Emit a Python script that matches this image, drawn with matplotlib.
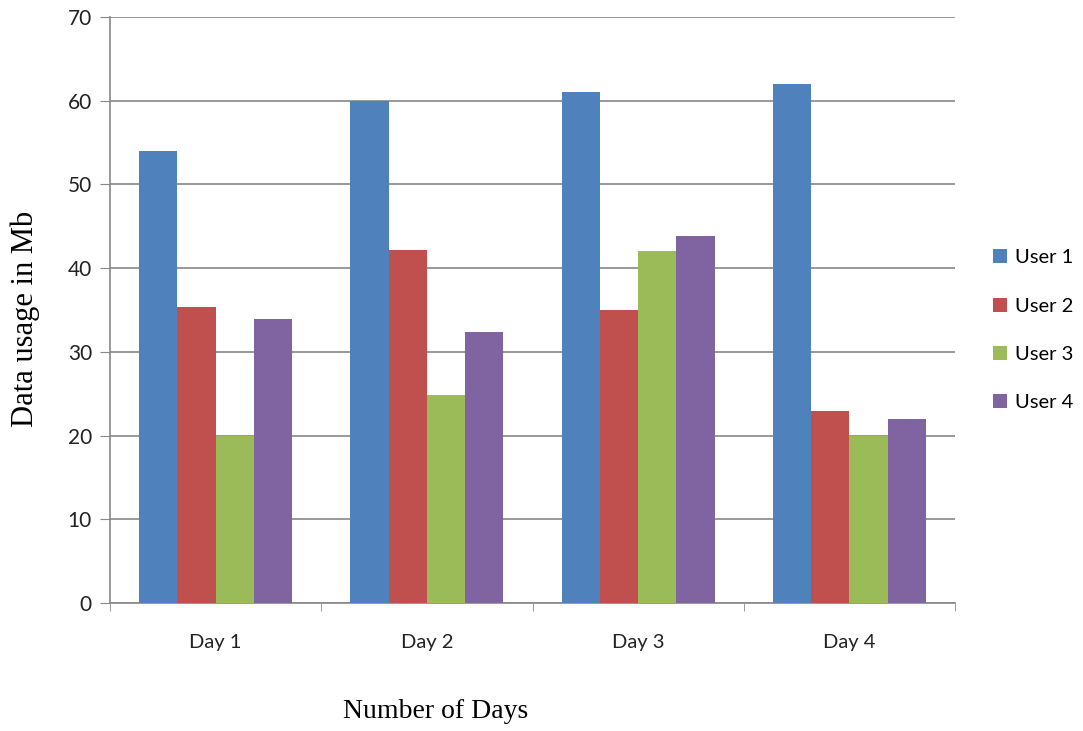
import matplotlib
matplotlib.use("Agg")
import matplotlib.pyplot as plt
import numpy as np
from matplotlib.patches import Patch

days = ["Day 1", "Day 2", "Day 3", "Day 4"]
users = ["User 1", "User 2", "User 3", "User 4"]
user1 = [54, 60, 61, 62]
user2 = [35.4, 42.2, 35, 23]
user3 = [20, 24.9, 42, 20]
user4 = [33.9, 32.4, 43.9, 22]
series = [user1, user2, user3, user4]
colors = ["#4F81BD", "#C0504D", "#9BBB59", "#8064A2"]
yticks = [0, 10, 20, 30, 40, 50, 60, 70]

fig = plt.figure(figsize=(10.83, 7.31), dpi=100)
ax = fig.add_axes([0.1016, 0.175, 0.7802, 0.8017])

n = len(series)
group_w = 0.725
bw = group_w / n
x = np.arange(len(days))
for i, (vals, c) in enumerate(zip(series, colors)):
    ax.bar(x - group_w / 2 + bw * (i + 0.5), vals, width=bw, color=c, zorder=3, linewidth=0)

ax.set_xlim(-0.5, len(days) - 0.5)
ax.set_ylim(0, 70)
ax.set_yticks(yticks)
ax.set_yticklabels([str(t) for t in yticks], fontsize=15, family="Lato", color="#222222")
ax.set_xticks(x)
ax.set_xticklabels(days, fontsize=14.5, family="Lato", color="#222222")
ax.tick_params(axis="x", length=0, pad=22)
ax.set_xticks(np.arange(-0.5, len(days)), minor=True)
ax.tick_params(axis="x", which="minor", length=6, color="#888888", direction="out")
ax.tick_params(axis="y", length=7, color="#888888", direction="out", pad=6)
ax.yaxis.grid(True, color="#888888", linewidth=1.2, zorder=0)
for s in ["top", "right"]:
    ax.spines[s].set_visible(False)
for s in ["left", "bottom"]:
    ax.spines[s].set_color("#888888")
    ax.spines[s].set_linewidth(1.2)

fig.text(0.402, 0.026, "Number of Days", family="Liberation Serif", fontsize=20, ha="center", va="center")
fig.text(0.023, 0.5636, "Data usage in Mb", family="Liberation Serif", fontsize=22, ha="center", va="center", rotation=90)

handles = [Patch(facecolor=c, edgecolor="none") for c in colors]
leg = fig.legend(handles, users, loc="center left", bbox_to_anchor=(0.9, 0.548), frameon=False,
                 prop={"family": "Lato", "size": 14.5}, handlelength=0.7, handleheight=0.7,
                 handletextpad=0.4, labelspacing=1.55)

fig.savefig("out.png", dpi=100)
